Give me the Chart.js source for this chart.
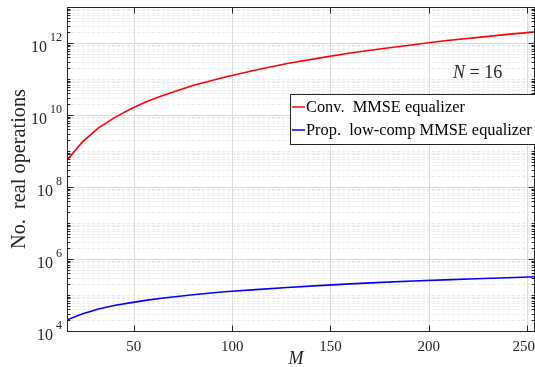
<!DOCTYPE html>
<html>
<head>
<meta charset="utf-8">
<title>No. real operations vs M</title>
<script src="https://cdn.jsdelivr.net/npm/chart.js@4.4.0/dist/chart.umd.min.js"></script>
<style>
  body { margin: 0; background: #fff; }
</style>
</head>
<body>
<canvas id="chart" width="535" height="367"></canvas>
<script>
// values
var antennas = [16, 24, 32, 40, 48, 56, 64, 80, 96, 112, 128, 144, 160, 176, 192, 208, 224, 240, 256];
var convOps = [5.62e8, 1.82e9, 4.37e9, 8.32e9, 1.45e10, 2.29e10, 3.39e10, 6.61e10, 1.12e11, 1.78e11,
               2.69e11, 3.80e11, 5.25e11, 6.92e11, 8.91e11, 1.15e12, 1.41e12, 1.74e12, 2.09e12];
var propOps = [2.04e4, 3.02e4, 4.07e4, 5.13e4, 6.03e4, 7.08e4, 8.13e4, 1.02e5, 1.23e5, 1.41e5,
               1.62e5, 1.82e5, 2.04e5, 2.24e5, 2.45e5, 2.63e5, 2.82e5, 3.02e5, 3.24e5];
var xTicks = [50, 100, 150, 200, 250];
var yTickExps = [4, 6, 8, 10, 12];
var seriesNames = ['Conv.  MMSE equalizer', 'Prop.  low-comp MMSE equalizer'];

var serif = '"Liberation Serif", "DejaVu Serif", serif';
var ink = '#262626';

function toPoints(xs, ys) {
    return xs.map(function (m, i) { return { x: m, y: ys[i] }; });
}

function hline(ctx, x0, x1, yy) {
    ctx.beginPath(); ctx.moveTo(x0, yy); ctx.lineTo(x1, yy); ctx.stroke();
}
function vline(ctx, xx, y0, y1) {
    ctx.beginPath(); ctx.moveTo(xx, y0); ctx.lineTo(xx, y1); ctx.stroke();
}
// pick a font size so that text takes the given width
function fitFont(ctx, text, width, style) {
    ctx.font = (style || '') + '20px ' + serif;
    var size = 20 * width / ctx.measureText(text).width;
    ctx.font = (style || '') + size.toFixed(2) + 'px ' + serif;
}

// MATLAB-looking axes: grid, box, inward ticks, labels, legend
var matlabAxes = {
    id: 'matlabAxes',
    beforeDatasetsDraw: function (chart) {
        var ctx = chart.ctx, a = chart.chartArea, x = chart.scales.x, y = chart.scales.y;
        ctx.save();
        ctx.lineWidth = 1;
        // minor grid (dashed)
        ctx.strokeStyle = '#ebebeb';
        ctx.setLineDash([3, 2]);
        for (var e = 4; e < 13; e++) {
            for (var m = 1; m < 10; m++) {
                if (m === 1 && e % 2 === 0) continue;
                var py = Math.round(y.getPixelForValue(m * Math.pow(10, e))) + 0.5;
                if (py < a.top + 1) continue;
                hline(ctx, a.left, a.right, py);
            }
        }
        // major grid
        ctx.setLineDash([]);
        ctx.strokeStyle = '#dcdcdc';
        yTickExps.forEach(function (e) {
            var py = Math.round(y.getPixelForValue(Math.pow(10, e))) + 0.5;
            hline(ctx, a.left, a.right, py);
        });
        xTicks.forEach(function (v) {
            var px = Math.round(x.getPixelForValue(v)) + 0.5;
            vline(ctx, px, a.top, a.bottom);
        });
        ctx.restore();
    },
    afterDatasetsDraw: function (chart) {
        var ctx = chart.ctx, a = chart.chartArea, x = chart.scales.x, y = chart.scales.y;
        var L = Math.round(a.left) + 0.5, R = Math.round(a.right) - 0.5;
        var T = Math.round(a.top) + 0.5, B = Math.round(a.bottom) + 0.5;
        ctx.save();
        ctx.strokeStyle = ink;
        ctx.lineWidth = 1;
        ctx.strokeRect(L, T, R - L, B - T);

        // y ticks
        for (var e = 4; e < 13; e++) {
            for (var m = 1; m < 10; m++) {
                var v = m * Math.pow(10, e);
                var py = Math.round(y.getPixelForValue(v)) + 0.5;
                if (py < T || py > B) continue;
                var len = (m === 1 && e % 2 === 0) ? 6 : 3;
                hline(ctx, L, L + len, py);
                hline(ctx, R - len, R, py);
            }
        }
        // x ticks
        xTicks.forEach(function (v) {
            var px = Math.round(x.getPixelForValue(v)) + 0.5;
            vline(ctx, px, B - 6, B);
            vline(ctx, px, T, T + 6);
        });

        // tick labels
        ctx.fillStyle = ink;
        ctx.font = '15px ' + serif;
        ctx.textAlign = 'center';
        ctx.textBaseline = 'middle';
        xTicks.forEach(function (v) {
            var px = x.getPixelForValue(v);
            var w = ctx.measureText(String(v)).width;
            px = Math.min(px, chart.width - w / 2);
            ctx.fillText(String(v), px, 347);
        });
        yTickExps.forEach(function (e) {
            var py = y.getPixelForValue(Math.pow(10, e));
            ctx.textAlign = 'right';
            ctx.font = '12px ' + serif;
            var supW = ctx.measureText(String(e)).width;
            ctx.fillText(String(e), 62, py - 5);
            ctx.font = '16px ' + serif;
            ctx.fillText('10', 62 - supW - 3, py + 5);
        });

        // axis titles
        ctx.textAlign = 'center';
        ctx.font = 'italic 18px ' + serif;
        ctx.fillText('M', 296, 359);
        ctx.save();
        ctx.translate(20, (a.top + a.bottom) / 2);
        ctx.rotate(-Math.PI / 2);
        fitFont(ctx, 'No.  real operations', 160, '');
        ctx.fillText('No.  real operations', 0, 0);
        ctx.restore();

        // annotation N = 16
        ctx.textAlign = 'left';
        ctx.font = 'italic 18px ' + serif;
        var nW = ctx.measureText('N').width;
        ctx.fillText('N', 453, 73);
        ctx.font = '18px ' + serif;
        ctx.fillText(' = 16', 453 + nW, 73);

        // legend
        ctx.fillStyle = '#fff';
        ctx.fillRect(290.5, 94.5, 260, 50);
        ctx.strokeStyle = ink;
        ctx.strokeRect(290.5, 94.5, 260, 50);
        var rows = [107, 130];
        chart.data.datasets.forEach(function (ds, i) {
            ctx.strokeStyle = ds.borderColor;
            ctx.lineWidth = 1.5;
            hline(ctx, 292, 305, rows[i]);
            ctx.fillStyle = '#000';
            fitFont(ctx, seriesNames[1], 226, '');
            ctx.fillText(ds.label, 306, rows[i] + 1);
        });
        ctx.restore();
    }
};

new Chart(document.getElementById('chart'), {
    type: 'line',
    data: {
        datasets: [{
            label: seriesNames[0],
            data: toPoints(antennas, convOps),
            borderColor: '#ff0000',
            borderWidth: 1.6,
            pointRadius: 0,
            tension: 0
        }, {
            label: seriesNames[1],
            data: toPoints(antennas, propOps),
            borderColor: '#0000ff',
            borderWidth: 1.6,
            pointRadius: 0,
            tension: 0
        }]
    },
    options: {
        responsive: false,
        animation: false,
        layout: { padding: { left: 67, top: 7, right: 0, bottom: 36 } },
        plugins: {
            legend: { display: false },
            tooltip: { enabled: false }
        },
        scales: {
            x: { type: 'linear', min: 16, max: 254, display: false },
            y: { type: 'logarithmic', min: 1e4, max: 1e13, display: false }
        }
    },
    plugins: [matlabAxes]
});
</script>
</body>
</html>
